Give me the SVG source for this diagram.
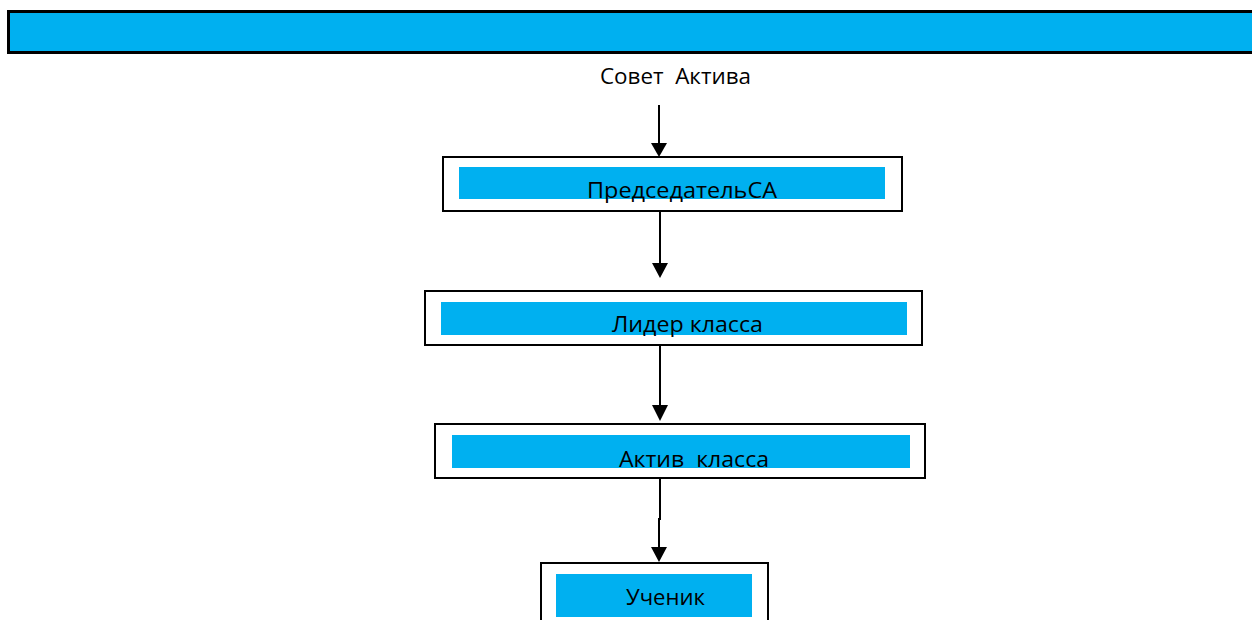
<svg xmlns="http://www.w3.org/2000/svg" width="1252" height="620" viewBox="0 0 1252 620">
<defs>
<style>
.frame{fill:#ffffff;stroke:#000000;stroke-width:2}
.fill{fill:#00b0f0}
.lbl{font-family:"Open Sans","Liberation Sans",sans-serif;font-size:21px;fill:#000000;white-space:pre}
.conn{stroke:#000000;stroke-width:2;fill:none}
</style>
</defs>
<rect width="1252" height="620" fill="#ffffff"/>
<g id="header">
<rect x="8.5" y="11.5" width="1250" height="41" fill="#00b0f0" stroke="#000000" stroke-width="3"/>
</g>
<g id="title">
<text class="lbl" xml:space="preserve" x="600" y="84" textLength="151" lengthAdjust="spacingAndGlyphs">Совет  Актива</text>
</g>
<g id="connectors">
<path class="conn" d="M659,105 L659,143"/>
<path d="M651,143 L667,143 L659,157 Z"/>
<path class="conn" d="M660,212 L660,263"/>
<path d="M652,263 L668,263 L660,278 Z"/>
<path class="conn" d="M660,345 L660,405"/>
<path d="M652,405 L668,405 L660,421 Z"/>
<path class="conn" d="M660,478 L660,519 L659,519 L659,547"/>
<path d="M651,547 L667,547 L659,562 Z"/>
</g>
<g id="node-chairman">
<rect class="frame" x="443" y="157" width="459" height="54"/>
<rect class="fill" x="459" y="167" width="426" height="32"/>
<text class="lbl" x="587" y="198" textLength="190" lengthAdjust="spacingAndGlyphs">ПредседательСА</text>
</g>
<g id="node-leader">
<rect class="frame" x="425" y="291" width="497" height="54"/>
<rect class="fill" x="441" y="302" width="466" height="33"/>
<text class="lbl" x="612" y="332" textLength="151" lengthAdjust="spacingAndGlyphs">Лидер класса</text>
</g>
<g id="node-activ">
<rect class="frame" x="435" y="424" width="490" height="54"/>
<rect class="fill" x="452" y="435" width="458" height="33"/>
<text class="lbl" xml:space="preserve" x="619" y="467" textLength="150" lengthAdjust="spacingAndGlyphs">Актив  класса</text>
</g>
<g id="node-student">
<rect class="frame" x="541" y="563" width="227" height="70"/>
<rect class="fill" x="556" y="574" width="196" height="43"/>
<text class="lbl" x="626" y="605" textLength="79" lengthAdjust="spacingAndGlyphs">Ученик</text>
</g>
</svg>
